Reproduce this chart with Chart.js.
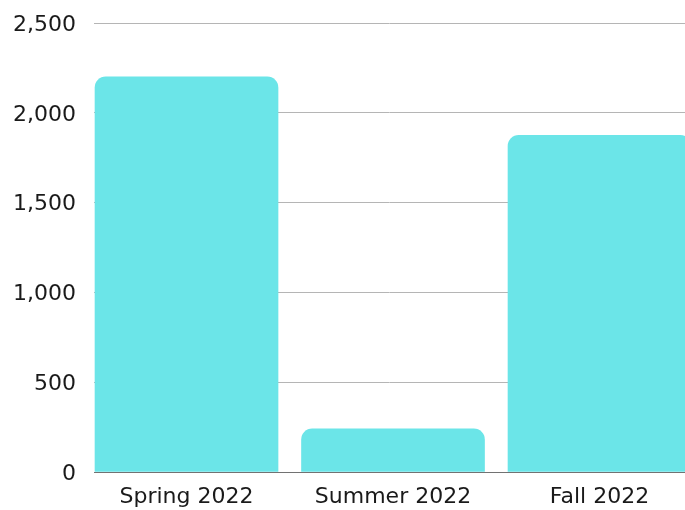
<!DOCTYPE html>
<html>
<head>
<meta charset="utf-8">
<script src="https://cdn.jsdelivr.net/npm/chart.js@4/dist/chart.umd.min.js"></script>
<style>
  html, body { margin: 0; padding: 0; background: #fff; overflow: hidden; }
  #wrap { width: 685px; height: 510px; }
</style>
</head>
<body>
<div id="wrap"><canvas id="chart-area"></canvas></div>
<script>
// data
var seasons = ['Spring 2022', 'Summer 2022', 'Fall 2022'];
var totals = [2200, 240, 1875];
var yTicks = [0, 500, 1000, 1500, 2000, 2500];

var ctx = document.getElementById('chart-area').getContext('2d');

window.myBar = new Chart(ctx, {
	type: 'bar',
	data: {
		datasets: [{
			data: totals.map(function(v, i){ return { x: i, y: v }; }),
			backgroundColor: '#6be5e8',
			borderWidth: 0,
			borderRadius: { topLeft: 11, topRight: 11, bottomLeft: 0, bottomRight: 0 },
			borderSkipped: 'bottom',
			barThickness: 183
		}]
	},
	options: {
		responsive: true,
		maintainAspectRatio: false,
		animation: false,
		layout: { padding: { top: 23, right: 0, bottom: 0, left: 0 } },
		plugins: {
			legend: { display: false },
			tooltip: { enabled: false }
		},
		scales: {
			x: {
				type: 'linear',
				offset: false,
				min: -0.448,
				max: 2.414,
				grid: { display: false, drawTicks: false, offset: false },
				border: { display: true, color: '#727272', width: 1 },
				afterBuildTicks: function(axis){
					axis.ticks = seasons.map(function(s, i){ return { value: i }; });
				},
				afterFit: function(axis){ axis.height = 38; },
				ticks: {
					autoSkip: false,
					maxRotation: 0,
					padding: 12,
					color: '#1a1a1a',
					font: { family: 'DejaVu Sans', size: 22 },
					callback: function(value){ return seasons[value]; }
				}
			},
			y: {
				min: 0,
				max: 2500,
				afterBuildTicks: function(axis){
					axis.ticks = yTicks.map(function(v){ return { value: v }; });
				},
				afterFit: function(axis){ axis.width = 94; },
				grid: { color: '#b5b5b5', lineWidth: 1, drawTicks: true, tickLength: 14, tickColor: 'rgba(0,0,0,0)' },
				border: { display: false },
				ticks: {
					padding: 4,
					labelOffset: 2,
					color: '#1a1a1a',
					font: { family: 'DejaVu Sans', size: 22 },
					callback: function(value){ return value.toLocaleString('en-US'); }
				}
			}
		}
	}
});
</script>
</body>
</html>
